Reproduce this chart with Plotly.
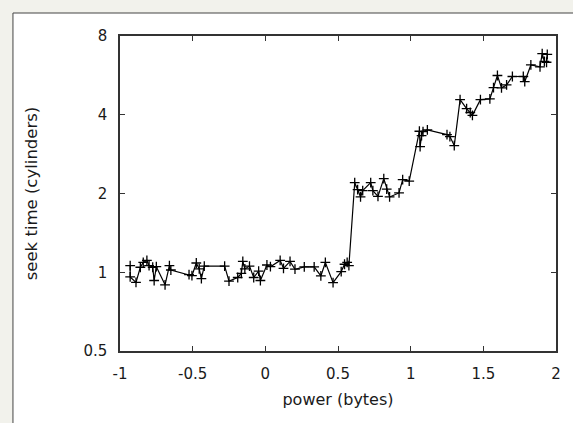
import plotly.graph_objects as go

# Measured seek time against power, one point per run
power = [
    -0.93, -0.93, -0.89, -0.86, -0.84, -0.815, -0.80, -0.775, -0.765, -0.75,
    -0.69, -0.66, -0.65, -0.525, -0.505, -0.475, -0.455, -0.44, -0.42, -0.28,
    -0.25, -0.19, -0.165, -0.155, -0.141, -0.109, -0.08, -0.046, -0.034, 0.011,
    0.035, 0.102, 0.125, 0.17, 0.204, 0.268, 0.336, 0.382, 0.413, 0.466,
    0.522, 0.545, 0.563, 0.575,
    0.615, 0.635, 0.655, 0.67, 0.725, 0.74, 0.775, 0.815, 0.835, 0.855,
    0.92, 0.945, 0.99, 1.06, 1.065, 1.075, 1.085, 1.115, 1.25, 1.27,
    1.3, 1.34, 1.385, 1.41, 1.425, 1.48, 1.545, 1.57, 1.597, 1.625,
    1.66, 1.70, 1.775, 1.785, 1.827, 1.89, 1.905, 1.92, 1.935, 1.94,
]
seek_time = [
    1.06, 0.96, 0.915, 1.045, 1.09, 1.11, 1.06, 1.045, 0.93, 1.05,
    0.895, 1.06, 1.02, 0.98, 0.97, 1.085, 1.03, 0.945, 1.055, 1.055,
    0.925, 0.955, 0.99, 1.10, 1.03, 1.056, 0.955, 1.01, 0.93, 1.066,
    1.05, 1.11, 1.035, 1.10, 1.027, 1.048, 1.048, 0.968, 1.09, 0.913,
    1.006, 1.073, 1.09, 1.06,
    2.2, 2.07, 1.94, 2.05, 2.2, 2.05, 1.95, 2.28, 2.08, 1.94,
    2.01, 2.26, 2.23, 3.46, 3.02, 3.33, 3.45, 3.5, 3.36, 3.3,
    3.05, 4.57, 4.22, 4.08, 3.98, 4.57, 4.6, 5.08, 5.65, 5.07,
    5.2, 5.6, 5.6, 5.35, 6.2, 6.1, 6.85, 6.4, 6.35, 6.8,
]

x_ticks = [-1, -0.5, 0, 0.5, 1, 1.5, 2]
x_tick_text = ["-1", "-0.5", "0", "0.5", "1", "1.5", "2"]
y_ticks = [0.5, 1, 2, 4, 8]
y_tick_text = ["0.5", "1", "2", "4", "8"]

FONT = "DejaVu Sans, Liberation Sans, sans-serif"
INK = "#1a1a1a"
FRAME = "#333333"

fig = go.Figure()
fig.add_trace(go.Scatter(
    x=power, y=seek_time, mode="lines+markers",
    line=dict(color="black", width=1.2),
    marker=dict(symbol="cross-thin-open", size=7,
                line=dict(color="black", width=1.3), color="black"),
    showlegend=False,
))

axis_common = dict(
    showline=True, linecolor=FRAME, linewidth=1.5, mirror="allticks",
    ticks="inside", ticklen=5, tickcolor=FRAME, tickwidth=1.2,
    showgrid=False, zeroline=False,
    tickfont=dict(family=FONT, size=15, color=INK),
)

fig.update_xaxes(
    range=[-1, 2], tickmode="array", tickvals=x_ticks, ticktext=x_tick_text,
    ticklabelstandoff=8,
    title=dict(text="power (bytes)", font=dict(family=FONT, size=16, color=INK),
               standoff=12),
    **axis_common,
)
fig.update_yaxes(
    type="log", range=[-0.30103, 0.90309], tickmode="array",
    tickvals=y_ticks, ticktext=y_tick_text,
    ticklabelstandoff=8,
    title=dict(text="seek time (cylinders)", font=dict(family=FONT, size=16.5, color=INK),
               standoff=42),
    **axis_common,
)

# White panel with a thin border sitting on the grey page
fig.add_shape(
    type="rect", xref="paper", yref="paper",
    x0=-0.2455, x1=1.3, y0=-0.6, y1=1.073,
    fillcolor="white", line=dict(color="#444444", width=1), layer="below",
)

fig.update_layout(
    width=573, height=423,
    margin=dict(l=120, r=13, t=36, b=72),
    paper_bgcolor="#f2f2ec", plot_bgcolor="white",
    font=dict(family=FONT, color=INK),
)

fig.write_html("out.html")
